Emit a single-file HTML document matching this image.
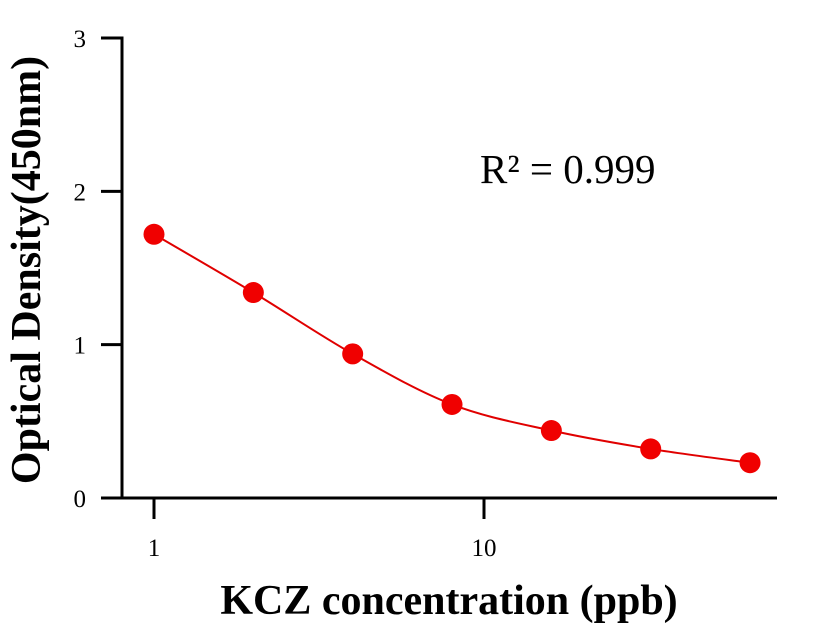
<!DOCTYPE html>
<html><head><meta charset="utf-8"><style>
html,body{margin:0;padding:0;background:#fff;}
svg{display:block;font-family:"Liberation Serif",serif;}
</style></head><body>
<svg id="chart" width="816" height="640">
<g id="axes"></g>
<g id="marks"></g>
<text x="480" y="183" font-size="41">R² = 0.999</text>
<text x="449" y="614" font-size="42" font-weight="bold" text-anchor="middle">KCZ concentration (ppb)</text>
<text transform="translate(40,270) rotate(-90)" font-size="42" font-weight="bold" text-anchor="middle">Optical Density(450nm)</text>
</svg>
<script>
const concentrations=[1,2,4,8,16,32,64];
const odValues=[1.72,1.34,0.94,0.61,0.44,0.32,0.23];
const yTicks=[0,1,2,3];
const xTicks=[1,10];
const NS="http://www.w3.org/2000/svg";
const xs=v=>154+Math.log10(v)*330;
const ys=v=>498-v*153.33;
function mk(tag,attrs,parent,text){const e=document.createElementNS(NS,tag);for(const k in attrs)e.setAttribute(k,attrs[k]);if(text!==undefined)e.textContent=text;parent.appendChild(e);return e;}
const ax=document.getElementById('axes');
let l=mk('line',{x1:122,y1:36.5,x2:122,y2:499.5,stroke:'#000','stroke-width':3},ax);


l=mk('line',{x1:120.5,y1:498,x2:777,y2:498,stroke:'#000','stroke-width':3},ax);


yTicks.forEach(t=>{
 const y=ys(t);
 const tk=mk('line',{x1:101,y1:y,x2:122,y2:y,stroke:'#000','stroke-width':3},ax);
 
 
 const tx=mk('text',{x:86,y:y+9,'font-size':25,'text-anchor':'end'},ax,String(t));
 
 
});
xTicks.forEach(t=>{
 const x=xs(t);
 const tk=mk('line',{x1:x,y1:498,x2:x,y2:519,stroke:'#000','stroke-width':3},ax);
 
 
 const tx=mk('text',{x:x,y:556,'font-size':25,'text-anchor':'middle'},ax,String(t));
 
 
});
const mg=document.getElementById('marks');
const pts=concentrations.map((c,i)=>[xs(c),ys(odValues[i])]);
let d='M'+pts[0][0]+','+pts[0][1];
for(let i=0;i<pts.length-1;i++){
 const p0=pts[Math.max(0,i-1)],p1=pts[i],p2=pts[i+1],p3=pts[Math.min(pts.length-1,i+2)];
 const c1=[p1[0]+(p2[0]-p0[0])/6,p1[1]+(p2[1]-p0[1])/6];
 const c2=[p2[0]-(p3[0]-p1[0])/6,p2[1]-(p3[1]-p1[1])/6];
 d+=` C${c1[0]},${c1[1]} ${c2[0]},${c2[1]} ${p2[0]},${p2[1]}`;
}
const path=mk('path',{d:d,fill:'none',stroke:'#e00000','stroke-width':2},mg);


pts.forEach(p=>{
 const c=mk('circle',{cx:p[0],cy:p[1],r:10.5,fill:'#f00000'},mg);
 
 
});
</script>
</body></html>
